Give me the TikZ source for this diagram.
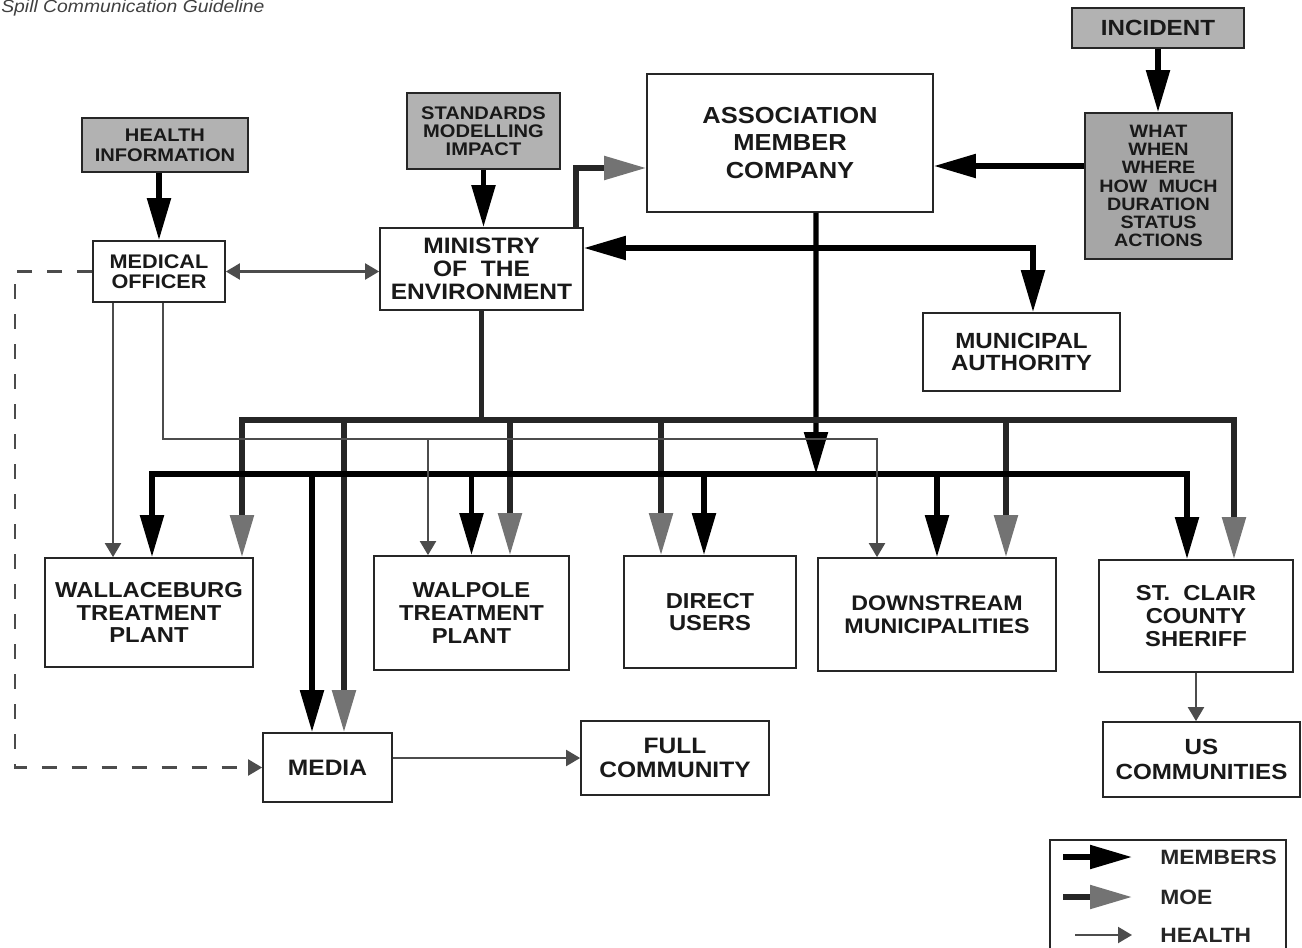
\documentclass[tikz,border=0pt]{standalone}
\usepackage{fontspec}
\setmainfont{Liberation Sans}[FakeStretch=1.1]
\usetikzlibrary{positioning, arrows.meta}

\begin{document}
\begin{tikzpicture}[x=0.02cm, y=-0.02cm,
    box/.style={draw=black!85, line width=1pt, fill=white, align=center, inner sep=0pt,
        text=black!90, font=\bfseries\fontsize{12.3}{13}\selectfont},
    shaded/.style={box, fill=gray!60},
    members/.style={line width=3pt, -{Triangle[length=0.84cm, width=0.46cm]}},
    membus/.style={line width=3pt,
        {Triangle[length=0.84cm, width=0.46cm]}-{Triangle[length=0.84cm, width=0.46cm]}},
    moe/.style={line width=3pt, draw=black!85,
        -{Triangle[length=0.84cm, width=0.46cm, color=black!55]}},
    moebus/.style={line width=3pt, draw=black!85,
        {Triangle[length=0.84cm, width=0.46cm, color=black!55]}-{Triangle[length=0.84cm, width=0.46cm, color=black!55]}},
    health/.style={line width=1.2pt, draw=black!70, -{Triangle[length=0.28cm, width=0.32cm]}},
    legtext/.style={anchor=west, inner sep=0pt, text=black!85, font=\bfseries\fontsize{11.8}{12}\selectfont}]

    \useasboundingbox (0,0) rectangle (1302,947);

    % page header
    \node [anchor=base west, inner sep=0pt, text=black!75, font=\itshape\fontsize{10}{10}\selectfont]
        (caption) at (1,12) {Spill Communication Guideline};

    % sources of information
    \node [shaded, minimum width=3.44cm, minimum height=0.8cm, font=\bfseries\fontsize{12.5}{14}\selectfont]
        (incident) at (1158,28) {INCIDENT};
    \node [shaded, fill=gray!70, minimum width=2.94cm, minimum height=2.92cm, font=\bfseries\fontsize{10.2}{10.4}\selectfont]
        (what) at (1158.5,186) {WHAT\\WHEN\\WHERE\\HOW\ \ MUCH\\DURATION\\STATUS\\ACTIONS};
    \node [box, minimum width=5.72cm, minimum height=2.76cm, font=\bfseries\fontsize{13.2}{15.9}\selectfont]
        (assoc) at (790,143) {ASSOCIATION\\MEMBER\\COMPANY};
    \node [shaded, minimum width=3.06cm, minimum height=1.52cm, font=\bfseries\fontsize{10.4}{10.4}\selectfont]
        (standards) at (483.5,131) {STANDARDS\\MODELLING\\IMPACT};
    \node [shaded, minimum width=3.32cm, minimum height=1.08cm, font=\bfseries\fontsize{10.4}{11.3}\selectfont]
        (healthinfo) at (165,145) {HEALTH\\INFORMATION};

    % agencies
    \node [box, minimum width=2.64cm, minimum height=1.22cm, font=\bfseries\fontsize{11.2}{11.3}\selectfont]
        (medical) at (159,271.5) {MEDICAL\\OFFICER};
    \node [box, minimum width=4.06cm, minimum height=1.64cm, font=\bfseries\fontsize{12.7}{13}\selectfont]
        (ministry) at (481.5,269) {MINISTRY\\OF\ \ THE\\ENVIRONMENT};
    \node [box, minimum width=3.94cm, minimum height=1.56cm, font=\bfseries\fontsize{12.5}{12.5}\selectfont]
        (municipal) at (1021.5,352) {MUNICIPAL\\AUTHORITY};

    % receivers
    \node [box, minimum width=4.16cm, minimum height=2.18cm] (wallaceburg) at (149,612.5) {WALLACEBURG\\TREATMENT\\PLANT};
    \node [box, minimum width=3.9cm, minimum height=2.28cm] (walpole) at (471.5,613) {WALPOLE\\TREATMENT\\PLANT};
    \node [box, minimum width=3.44cm, minimum height=2.24cm] (direct) at (710,612) {DIRECT\\USERS};
    \node [box, minimum width=4.76cm, minimum height=2.26cm, font=\bfseries\fontsize{12}{13}\selectfont]
        (downstream) at (937,614.5) {DOWNSTREAM\\MUNICIPALITIES};
    \node [box, minimum width=3.88cm, minimum height=2.24cm] (sheriff) at (1196,616) {ST.\ \ CLAIR\\COUNTY\\SHERIFF};
    \node [box, minimum width=3.94cm, minimum height=1.5cm, font=\bfseries\fontsize{12.5}{14}\selectfont]
        (uscomm) at (1201.5,759.5) {US\\COMMUNITIES};
    \node [box, minimum width=2.58cm, minimum height=1.38cm, font=\bfseries\fontsize{12.7}{13}\selectfont]
        (media) at (327.5,767.5) {MEDIA};
    \node [box, minimum width=3.76cm, minimum height=1.48cm, font=\bfseries\fontsize{12.7}{13.6}\selectfont]
        (fullcomm) at (675,758) {FULL\\COMMUNITY};

    % junctions on the buses
    \coordinate (memjunc) at (816,248);
    \coordinate (memjoin) at (816,474);
    \coordinate (moejoin) at (481.5,420);
    \coordinate (healthjoin) at (428,439);
    \coordinate (dashcorner) at (15,271.5);

    % top part
    \draw [members] (incident.south) -- (incident.south |- what.north);
    \draw [members] ([yshift=0.4cm]what.west) -- ([yshift=0.4cm]what.west -| assoc.east);
    \draw [members] (standards.south) -- (standards.south |- ministry.north);
    \draw [members] (medical.north |- healthinfo.south) -- (medical.north);
    \draw [health, {Triangle[length=0.28cm, width=0.32cm]}-{Triangle[length=0.28cm, width=0.32cm]}]
        (medical.east) -- (medical.east -| ministry.west);
    \draw [moe] ([xshift=-0.16cm]ministry.north east) |- ([yshift=-0.5cm]assoc.west);
    \draw [members] ([xshift=0.52cm]assoc.south) -- (memjoin);
    \draw [members] (memjunc) -- (memjunc -| ministry.east);
    \draw [members] (memjunc) -| ([xshift=0.23cm]municipal.north);

    % MOE bus
    \draw [line width=3pt, draw=black!85] (ministry.south) -- (moejoin);
    \draw [moebus] ([xshift=1.86cm]wallaceburg.north) |- (moejoin) -| ([xshift=0.76cm]sheriff.north);
    \draw [moe] ([xshift=0.33cm]media.north |- moejoin) -- ([xshift=0.33cm]media.north);
    \draw [moe] ([xshift=0.77cm]walpole.north |- moejoin) -- ([xshift=0.77cm]walpole.north);
    \draw [moe] ([xshift=-0.98cm]direct.north |- moejoin) -- ([xshift=-0.98cm]direct.north);
    \draw [moe] ([xshift=1.38cm]downstream.north |- moejoin) -- ([xshift=1.38cm]downstream.north);

    % members bus
    \draw [membus] ([xshift=0.06cm]wallaceburg.north) |- (memjoin) -| ([xshift=-0.18cm]sheriff.north);
    \draw [members] ([xshift=-0.31cm]media.north |- memjoin) -- ([xshift=-0.31cm]media.north);
    \draw [members] (walpole.north |- memjoin) -- (walpole.north);
    \draw [members] ([xshift=-0.12cm]direct.north |- memjoin) -- ([xshift=-0.12cm]direct.north);
    \draw [members] (downstream.north |- memjoin) -- (downstream.north);

    % health lines
    \draw [health] ([xshift=-0.92cm]medical.south) -- ([xshift=-0.92cm]medical.south |- wallaceburg.north);
    \draw [health] ([xshift=0.08cm]medical.south) |- (healthjoin) -| ([xshift=-1.2cm]downstream.north);
    \draw [health] (healthjoin) -- (healthjoin |- walpole.north);
    \draw [health, dash pattern=on 0.3cm off 0.3cm] (medical.west) -- (dashcorner) |- (media.west);
    \draw [health] (fullcomm.west -| media.east) -- (fullcomm.west);
    \draw [health] (sheriff.south) -- (sheriff.south |- uscomm.north);

    % legend
    \node [draw=black!85, line width=1.2pt, minimum width=4.72cm, minimum height=2.44cm] (legend) at (1168,901) {};
    \node [legtext] (legmem) at (1160,857) {MEMBERS};
    \node [legtext] (legmoe) at (1160,897) {MOE};
    \node [legtext] (leghealth) at (1160,935) {HEALTH};
    \draw [members] ([xshift=-1.94cm]legmem.west) -- ([xshift=-0.56cm]legmem.west);
    \draw [moe] ([xshift=-1.94cm]legmoe.west) -- ([xshift=-0.56cm]legmoe.west);
    \draw [health] ([xshift=-1.7cm]leghealth.west) -- ([xshift=-0.56cm]leghealth.west);
\end{tikzpicture}
\end{document}
